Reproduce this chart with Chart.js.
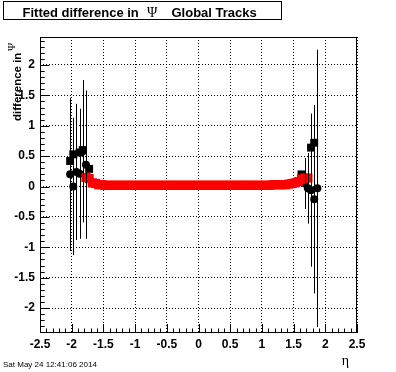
<!DOCTYPE html>
<html>
<head>
<meta charset="utf-8">
<script src="https://cdn.jsdelivr.net/npm/chart.js@4.4.1/dist/chart.umd.min.js"></script>
<style>
  html, body { margin: 0; padding: 0; background: #fff; }
  canvas { display: block; }
</style>
</head>
<body>
<canvas id="c" width="396" height="372"></canvas>
<script>
// axis ticks
const xTicks = [-2.5, -2, -1.5, -1, -0.5, 0, 0.5, 1, 1.5, 2, 2.5];
const yTicks = [-2, -1.5, -1, -0.5, 0, 0.5, 1, 1.5, 2];

// red squares (central region)
const redEta = [
  -1.775, -1.725, -1.675, -1.625, -1.575, -1.525, -1.475, -1.425, -1.375, -1.325,
  -1.275, -1.225, -1.175, -1.125, -1.075, -1.025, -0.975, -0.925, -0.875, -0.825,
  -0.775, -0.725, -0.675, -0.625, -0.575, -0.525, -0.475, -0.425, -0.375, -0.325,
  -0.275, -0.225, -0.175, -0.125, -0.075, -0.025, 0.025, 0.075, 0.125, 0.175,
  0.225, 0.275, 0.325, 0.375, 0.425, 0.475, 0.525, 0.575, 0.625, 0.675,
  0.725, 0.775, 0.825, 0.875, 0.925, 0.975, 1.025, 1.075, 1.125, 1.175,
  1.225, 1.275, 1.325, 1.375, 1.425, 1.475, 1.525, 1.575, 1.625, 1.675,
  1.725
];
const redVal = [
  0.15, 0.13, 0.06, 0.05, 0.03, 0.03, 0.02, 0.02, 0.02, 0.02,
  0.02, 0.02, 0.02, 0.02, 0.02, 0.02, 0.02, 0.02, 0.02, 0.02,
  0.02, 0.02, 0.02, 0.02, 0.02, 0.02, 0.02, 0.02, 0.02, 0.02,
  0.02, 0.02, 0.02, 0.02, 0.02, 0.02, 0.02, 0.02, 0.02, 0.02,
  0.02, 0.02, 0.02, 0.02, 0.02, 0.02, 0.02, 0.02, 0.02, 0.02,
  0.02, 0.02, 0.02, 0.02, 0.02, 0.02, 0.02, 0.02, 0.02, 0.03,
  0.03, 0.03, 0.03, 0.03, 0.04, 0.05, 0.06, 0.08, 0.12, 0.14,
  0.14
];

// black squares (edges)
const squareEta = [-2.025, -1.975, -1.875, -1.825, -1.725, 1.625, 1.775, 1.825];
const squareVal = [0.42, 0.53, 0.56, 0.60, 0.29, 0.20, 0.64, 0.72];

// black circles with errors (edges)
const circleEta = [-2.025, -1.975, -1.925, -1.875, -1.825, -1.775, 1.675, 1.725, 1.775, 1.825, 1.875];
const circleVal = [0.20, 0.00, 0.24, 0.21, 0.58, 0.36, 0.05, -0.03, -0.06, -0.21, -0.03];
const circleErr = [1.26, 1.13, 1.12, 1.07, 1.17, 1.22, 0.42, 0.58, 1.26, 1.55, 2.28];

function pts(xs, ys) {
  return xs.map((x, i) => ({ x: x, y: ys[i] }));
}

const rootStyle = {
  id: 'rootStyle',
  afterDatasetsDraw(chart) {
    // error bars of the circles
    const ctx = chart.ctx, xs = chart.scales.x, ys = chart.scales.y, a = chart.chartArea;
    ctx.save();
    ctx.beginPath();
    ctx.rect(a.left, a.top, a.right - a.left, a.bottom - a.top);
    ctx.clip();
    ctx.strokeStyle = '#000';
    ctx.lineWidth = 1;
    ctx.beginPath();
    circleEta.forEach((e, i) => {
      const px = Math.round(xs.getPixelForValue(e)) + 0.5;
      ctx.moveTo(px, ys.getPixelForValue(circleVal[i] + circleErr[i]));
      ctx.lineTo(px, ys.getPixelForValue(circleVal[i] - circleErr[i]));
    });
    ctx.stroke();
    ctx.restore();
  },
  afterDraw(chart) {
    const ctx = chart.ctx, xs = chart.scales.x, ys = chart.scales.y, a = chart.chartArea;
    ctx.save();
    ctx.strokeStyle = '#000';
    ctx.lineWidth = 1;
    // frame
    ctx.strokeRect(a.left + 0.5, a.top + 0.5, a.right - a.left - 1, a.bottom - a.top - 1);
    // ticks pointing inwards, minor every 0.1
    ctx.beginPath();
    for (let k = -25; k <= 25; k++) {
      const px = Math.round(xs.getPixelForValue(k / 10)) + 0.5;
      const len = k % 5 === 0 ? 9 : 4.5;
      ctx.moveTo(px, a.bottom);
      ctx.lineTo(px, a.bottom - len);
    }
    for (let k = -24; k <= 24; k++) {
      const py = Math.round(ys.getPixelForValue(k / 10)) + 0.5;
      const len = k % 5 === 0 ? 9.5 : 4.7;
      ctx.moveTo(a.left, py);
      ctx.lineTo(a.left + len, py);
    }
    ctx.stroke();

    // title box
    ctx.strokeRect(3.5, 1.5, 278, 18);
    ctx.fillStyle = '#000';
    ctx.textBaseline = 'alphabetic';
    ctx.textAlign = 'left';
    ctx.font = 'bold 13px "Liberation Sans", Arial, sans-serif';
    ctx.fillText('Fitted difference in', 22.5, 16.5);
    ctx.fillText('Global Tracks', 171.5, 16.5);
    ctx.font = '14px "Liberation Serif", serif';
    ctx.fillText('\u03A8', 147, 16.5);

    // y title
    ctx.save();
    ctx.translate(21, 53);
    ctx.rotate(-Math.PI / 2);
    ctx.textAlign = 'left';
    ctx.font = 'bold 11.5px "Liberation Sans", Arial, sans-serif';
    ctx.fillText('difference in', -68, 0);
    ctx.restore();
    ctx.save();
    ctx.translate(15, 47);
    ctx.rotate(-Math.PI / 2);
    ctx.textAlign = 'center';
    ctx.font = '11px "Liberation Serif", serif';
    ctx.fillText('\u03A8', 0, 0);
    ctx.restore();

    // x title
    ctx.textAlign = 'right';
    ctx.font = '14px "Liberation Serif", serif';
    ctx.fillText('\u03B7', 349, 365);

    // date stamp
    ctx.textAlign = 'left';
    ctx.font = '8px "Liberation Sans", Arial, sans-serif';
    ctx.fillText('Sat May 24 12:41:06 2014', 3, 367);
    ctx.restore();
  }
};

const tickFont = { family: '"Liberation Sans", Arial, sans-serif', size: 12, weight: 'bold' };

new Chart(document.getElementById('c'), {
  type: 'scatter',
  data: {
    datasets: [
      {
        label: 'red',
        data: pts(redEta, redVal),
        pointStyle: 'rect',
        pointRadius: 6.5,
        borderWidth: 0,
        backgroundColor: '#ff0000',
        borderColor: '#ff0000'
      },
      {
        label: 'squares',
        data: pts(squareEta, squareVal),
        pointStyle: 'rect',
        pointRadius: 5.6,
        borderWidth: 0,
        backgroundColor: '#000',
        borderColor: '#000'
      },
      {
        label: 'circles',
        data: pts(circleEta, circleVal),
        pointStyle: 'circle',
        pointRadius: 4,
        borderWidth: 0,
        backgroundColor: '#000',
        borderColor: '#000'
      }
    ]
  },
  options: {
    responsive: false,
    animation: false,
    events: [],
    layout: { padding: { left: 0, top: 37, right: 39, bottom: 0 } },
    plugins: { legend: { display: false }, tooltip: { enabled: false } },
    scales: {
      x: {
        type: 'linear',
        min: -2.5,
        max: 2.5,
        afterBuildTicks: (s) => { s.ticks = xTicks.map(v => ({ value: v })); },
        afterFit: (s) => { s.height = 39; },
        ticks: {
          color: '#000',
          font: tickFont,
          padding: 4,
          maxRotation: 0,
          autoSkip: false,
          callback: (v) => String(v)
        },
        grid: { color: '#000', lineWidth: 1, drawTicks: false },
        border: { display: false, dash: [1, 2] }
      },
      y: {
        type: 'linear',
        min: -2.41,
        max: 2.46,
        afterBuildTicks: (s) => { s.ticks = yTicks.map(v => ({ value: v })); },
        afterFit: (s) => { s.width = 40; },
        ticks: {
          color: '#000',
          font: tickFont,
          padding: 5,
          autoSkip: false,
          callback: (v) => String(v)
        },
        grid: { color: '#000', lineWidth: 1, drawTicks: false },
        border: { display: false, dash: [1, 2] }
      }
    }
  },
  plugins: [rootStyle]
});
</script>
</body>
</html>
